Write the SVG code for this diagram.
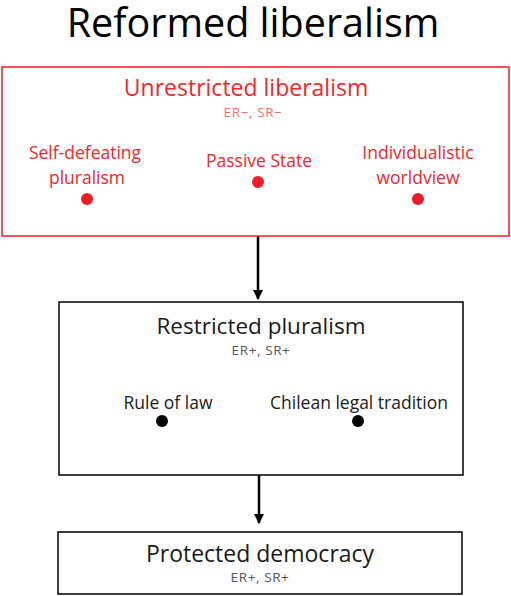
<svg xmlns="http://www.w3.org/2000/svg" width="511" height="596" viewBox="0 0 511 596">
<defs>
<marker id="ah" viewBox="0 0 10 10" refX="9" refY="5" markerWidth="4" markerHeight="4" orient="auto" markerUnits="strokeWidth">
<path d="M0,0 L10,5 L0,10 z" fill="#000"/>
</marker>
<style>
text{font-family:"Open Sans","Noto Sans","Liberation Sans",sans-serif;text-anchor:middle}
.red{fill:#f0262c}
.blk{fill:#1a1a1a}
.sub{font-size:13.5px;letter-spacing:0.6px}
.item{font-size:17.5px}
.box{fill:#fff;stroke-width:1.5}
</style>
</defs>
<rect width="511" height="596" fill="#fff"/>
<text x="253" y="37" font-size="39.5" fill="#000">Reformed liberalism</text>
<g id="connectors" stroke="#000" stroke-width="2.5" fill="none">
<line x1="258" y1="236" x2="258" y2="299" marker-end="url(#ah)"/>
<line x1="259" y1="475" x2="259" y2="523" marker-end="url(#ah)"/>
</g>
<g id="unrestricted">
<rect class="box" x="2" y="67" width="507" height="169" stroke="#ee1c24"/>
<text class="red" x="246" y="96" font-size="23">Unrestricted liberalism</text>
<text class="red sub" x="253" y="117" fill-opacity="0.7">ER−, SR−</text>
<text class="red item" x="85" y="159">Self-defeating</text>
<text class="red item" x="87" y="184">pluralism</text>
<circle cx="87" cy="199" r="6" fill="#ee1c24"/>
<text class="red item" x="259" y="167">Passive State</text>
<circle cx="258" cy="182" r="6" fill="#ee1c24"/>
<text class="red item" x="418" y="159">Individualistic</text>
<text class="red item" x="418" y="184">worldview</text>
<circle cx="418" cy="199" r="6" fill="#ee1c24"/>
</g>
<g id="restricted">
<rect class="box" x="59" y="302" width="404" height="173" stroke="#000"/>
<text class="blk" x="261" y="334" font-size="22.5">Restricted pluralism</text>
<text class="sub" x="261" y="355" fill="#555">ER+, SR+</text>
<text class="blk item" x="168" y="409">Rule of law</text>
<circle cx="162" cy="421" r="6" fill="#000"/>
<text class="blk item" x="359" y="409">Chilean legal tradition</text>
<circle cx="358" cy="421" r="6" fill="#000"/>
</g>
<g id="protected">
<rect class="box" x="58" y="532" width="404" height="62" stroke="#000"/>
<text class="blk" x="260" y="562" font-size="23">Protected democracy</text>
<text class="sub" x="260" y="582" fill="#555">ER+, SR+</text>
</g>
</svg>
